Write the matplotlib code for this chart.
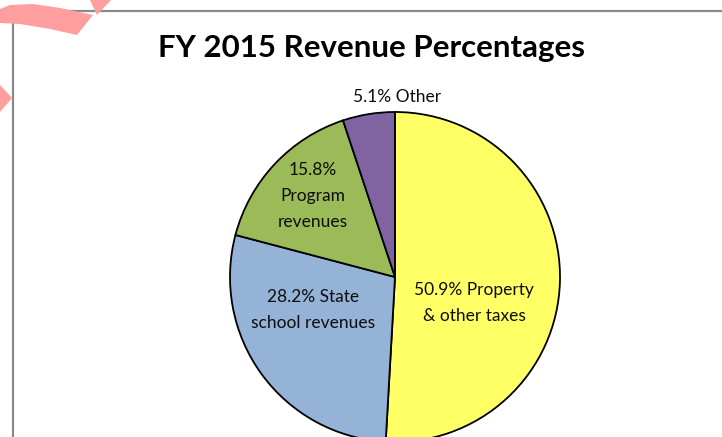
import matplotlib
matplotlib.use("Agg")
import matplotlib.pyplot as plt
from matplotlib.patches import Polygon
from matplotlib.lines import Line2D

title = "FY 2015 Revenue Percentages"
categories = ["Property\n& other taxes", "State\nschool revenues", "Program\nrevenues", "Other"]
values = [50.9, 28.2, 15.8, 5.1]
labels = ["50.9% Property\n& other taxes", "28.2% State\nschool revenues",
          "15.8%\nProgram\nrevenues", "5.1% Other"]
colors = ["#FFFF66", "#95B3D7", "#9BBB59", "#8064A2"]

W, H = 722, 437
fig = plt.figure(figsize=(W / 100, H / 100), dpi=100)
ax = fig.add_axes([0, 0, 1, 1])

cx, cy, r = 395, H - 277, 165
wedges, _ = ax.pie(values, colors=colors, startangle=90, counterclock=False,
                   center=(cx, cy), radius=r,
                   wedgeprops=dict(edgecolor="black", linewidth=1.3))
ax.set_xlim(0, W)
ax.set_ylim(0, H)
ax.set_aspect("auto")
ax.axis("off")

font = "Lato"
label_pos = [(474, H - 303), (313, H - 310), (313, H - 196), (397, H - 97)]
for lab, (x, y) in zip(labels, label_pos):
    ax.text(x, y, lab, ha="center", va="center", fontsize=12.5, family=font,
            color="#0d0d0d", linespacing=1.75)

ax.text(372, H - 48, title, ha="center", va="center", fontsize=22.5,
        fontweight="bold", family=font, color="black")

# frame lines
ax.add_line(Line2D([12.5, 12.5], [0, H - 11], color="#8a8a8a", lw=1.6))
ax.add_line(Line2D([12.5, W], [H - 11, H - 11], color="#8a8a8a", lw=1.6))

# pink marks at top-left
pink = "#FF9E9E"
band = [(0, 9), (10, 5), (33, 4), (60, 8), (93, 15), (77, 35), (50, 29), (20, 24), (0, 23)]
tri1 = [(90, 0), (111, 0), (97, 15)]
tri2 = [(0, 85), (12, 98), (0, 112)]
for pts in (band, tri1, tri2):
    ax.add_patch(Polygon([(x, H - y) for x, y in pts], closed=True,
                         facecolor=pink, edgecolor="none", zorder=5))

fig.savefig("out.png", dpi=100)
